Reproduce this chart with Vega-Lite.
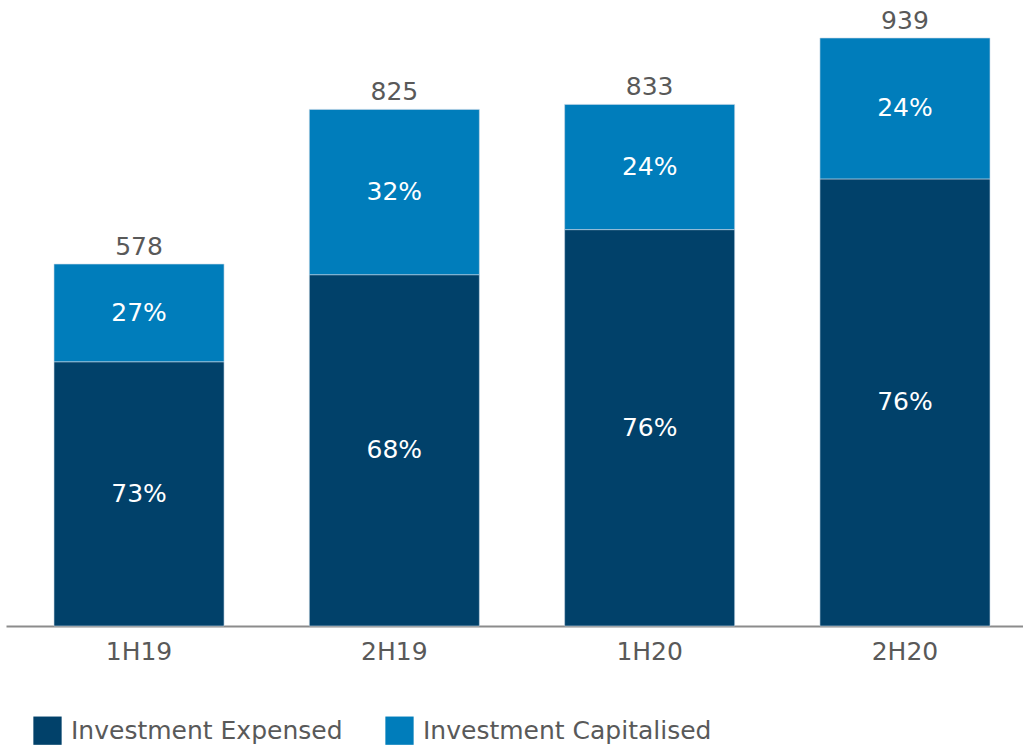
{
  "$schema": "https://vega.github.io/schema/vega-lite/v6.json",
  "autosize": {"type": "none"},
  "padding": {"left": 6, "top": 38, "right": 0, "bottom": 126},
  "width": 1017,
  "height": 588,
  "background": "white",
  "config": {
    "view": {"stroke": null},
    "font": "DejaVu Sans"
  },
  "data": {
    "values": [
      {"period": "1H19", "type": "Investment Expensed", "order": 1, "value": 422, "pct": "73%"},
      {"period": "1H19", "type": "Investment Capitalised", "order": 2, "value": 156, "pct": "27%"},
      {"period": "2H19", "type": "Investment Expensed", "order": 1, "value": 561, "pct": "68%"},
      {"period": "2H19", "type": "Investment Capitalised", "order": 2, "value": 264, "pct": "32%"},
      {"period": "1H20", "type": "Investment Expensed", "order": 1, "value": 633, "pct": "76%"},
      {"period": "1H20", "type": "Investment Capitalised", "order": 2, "value": 200, "pct": "24%"},
      {"period": "2H20", "type": "Investment Expensed", "order": 1, "value": 714, "pct": "76%"},
      {"period": "2H20", "type": "Investment Capitalised", "order": 2, "value": 225, "pct": "24%"}
    ]
  },
  "layer": [
    {
      "mark": {"type": "bar", "stroke": "#c9d9e6", "strokeWidth": 0.6},
      "encoding": {
        "x": {
          "field": "period", "type": "nominal", "sort": ["1H19", "2H19", "1H20", "2H20"],
          "scale": {"range": [0, 1032], "paddingInner": 0.334, "paddingOuter": 0.188},
          "axis": {
            "title": null, "ticks": false, "labelAngle": 0, "labelFontSize": 25,
            "labelColor": "#595959", "labelPadding": 13, "domainColor": "#8c8c8c",
            "domainWidth": 2, "grid": false
          }
        },
        "y": {
          "field": "value", "type": "quantitative", "stack": "zero",
          "scale": {"domain": [0, 939], "nice": false, "zero": true},
          "axis": null
        },
        "color": {
          "field": "type", "type": "nominal",
          "scale": {"domain": ["Investment Expensed", "Investment Capitalised"], "range": ["#01416A", "#007DBB"]},
          "legend": {
            "title": null, "orient": "none", "direction": "horizontal",
            "legendX": 27, "legendY": 678,
            "symbolType": "square", "symbolSize": 800, "symbolStrokeWidth": 0,
            "labelFontSize": 25, "labelColor": "#595959", "labelOffset": 9,
            "labelLimit": 0, "columnPadding": 42, "symbolOpacity": 1
          }
        },
        "order": {"field": "order", "type": "quantitative"}
      }
    },
    {
      "transform": [
        {"stack": "value", "groupby": ["period"], "sort": [{"field": "order"}], "as": ["v0", "v1"]},
        {"calculate": "(datum.v0 + datum.v1) / 2", "as": "mid"}
      ],
      "mark": {"type": "text", "fontSize": 25, "color": "white", "baseline": "middle"},
      "encoding": {
        "x": {"field": "period", "type": "nominal", "sort": ["1H19", "2H19", "1H20", "2H20"]},
        "y": {"field": "mid", "type": "quantitative"},
        "text": {"field": "pct"}
      }
    },
    {
      "mark": {"type": "text", "fontSize": 25, "color": "#595959", "baseline": "bottom", "dy": -4},
      "encoding": {
        "x": {"field": "period", "type": "nominal", "sort": ["1H19", "2H19", "1H20", "2H20"]},
        "y": {"aggregate": "sum", "field": "value", "type": "quantitative"},
        "text": {"aggregate": "sum", "field": "value", "type": "quantitative"}
      }
    }
  ]
}
